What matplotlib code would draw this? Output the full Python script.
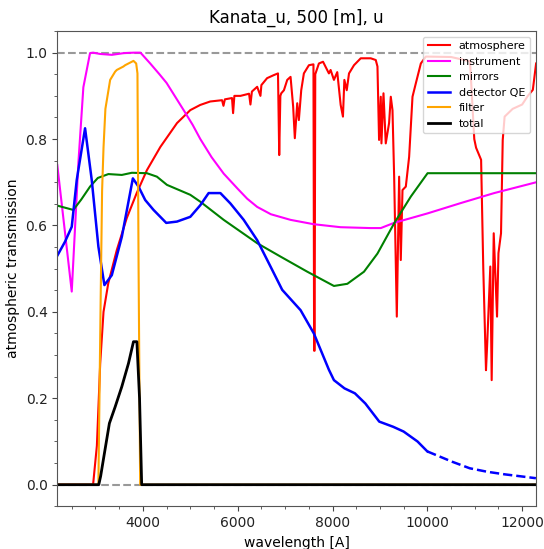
import matplotlib
matplotlib.use("Agg")
import matplotlib.pyplot as plt
import numpy as np

# wavelength [A] / transmission pairs for each component
atm_wl = [2195, 2950, 3030, 3100, 3170, 3270, 3450, 3660, 3870, 4085, 4370, 4720, 5000, 5210,
          5420, 5670, 5700, 5730, 5880, 5903, 5930, 6058, 6240, 6269, 6300, 6411, 6480, 6500,
          6620, 6760, 6850, 6876, 6900, 6919, 6975, 7045, 7115, 7170, 7205, 7256, 7290, 7340,
          7396, 7502, 7598, 7612, 7622, 7636, 7713, 7800, 7924, 7960, 8030, 8100, 8172, 8220,
          8250, 8300, 8348, 8453, 8595, 8806, 8912, 8948, 8982, 9018, 9032, 9075, 9123, 9193,
          9229, 9265, 9300, 9356, 9405, 9440, 9476, 9546, 9616, 9687, 9757, 9863, 9969, 10500,
          10900, 10990, 11028, 11134, 11180, 11237, 11260, 11328, 11357, 11400, 11470, 11500,
          11554, 11590, 11630, 11800, 12000, 12120, 12225, 12294]
atm_val = [0.0, 0.0, 0.09, 0.28, 0.40, 0.466, 0.543, 0.617, 0.675, 0.728, 0.782, 0.837, 0.867, 0.879,
           0.887, 0.89, 0.877, 0.892, 0.895, 0.86, 0.90, 0.90, 0.905, 0.88, 0.91, 0.921, 0.90, 0.925,
           0.941, 0.948, 0.952, 0.763, 0.90, 0.906, 0.913, 0.937, 0.944, 0.875, 0.802, 0.883, 0.844, 0.913,
           0.952, 0.971, 0.973, 0.31, 0.31, 0.95, 0.975, 0.979, 0.952, 0.96, 0.937, 0.955, 0.879, 0.852,
           0.937, 0.913, 0.952, 0.971, 0.987, 0.987, 0.983, 0.968, 0.798, 0.898, 0.79, 0.906, 0.79, 0.837,
           0.898, 0.867, 0.713, 0.389, 0.713, 0.52, 0.682, 0.69, 0.759, 0.898, 0.929, 0.975, 0.991, 0.99,
           0.98, 0.80, 0.78, 0.752, 0.50, 0.265, 0.32, 0.505, 0.242, 0.582, 0.389, 0.536,
           0.582, 0.798, 0.852, 0.87, 0.88, 0.90, 0.914, 0.975]

inst_wl = [2195, 2500, 2640, 2745, 2886, 2950, 3100, 3345, 3600, 3800, 3950, 4155, 4350, 4500,
           4700, 4860, 5050, 5212, 5450, 5705, 6000, 6200, 6411, 6700, 7115, 7600, 8170, 8800,
           9018, 9297, 10005, 10709, 11410, 12295]
inst_val = [0.74, 0.447, 0.745, 0.92, 0.999, 1.0, 0.997, 0.995, 0.999, 1.0, 1.0, 0.975, 0.95, 0.93,
            0.895, 0.867, 0.833, 0.80, 0.758, 0.72, 0.685, 0.662, 0.643, 0.626, 0.613, 0.603, 0.596, 0.594,
            0.594, 0.606, 0.628, 0.652, 0.675, 0.70]

mir_wl = [2195, 2533, 2700, 2886, 3050, 3273, 3556, 3768, 4085, 4296, 4508, 5000, 5212, 5705,
          6411, 6903, 7468, 8030, 8313, 8664, 8948, 9300, 9652, 10005, 12290]
mir_val = [0.646, 0.636, 0.66, 0.69, 0.71, 0.719, 0.717, 0.722, 0.721, 0.713, 0.694, 0.671, 0.655, 0.613,
           0.559, 0.528, 0.493, 0.46, 0.465, 0.493, 0.535, 0.605, 0.667, 0.721, 0.721]

qe_wl = [2195, 2358, 2500, 2605, 2781, 2922, 3062, 3189, 3345, 3557, 3789, 3908, 4049, 4225,
         4493, 4719, 5000, 5212, 5387, 5635, 5846, 6127, 6411, 6692, 6939, 7326, 7607, 7924,
         8030, 8252, 8472, 8692, 8986, 9280, 9500, 9793, 10000]
qe_val = [0.53, 0.5625, 0.597, 0.705, 0.825, 0.705, 0.551, 0.462, 0.485, 0.574, 0.709, 0.69, 0.659, 0.636,
          0.606, 0.609, 0.62, 0.647, 0.675, 0.675, 0.651, 0.613, 0.566, 0.505, 0.451, 0.404, 0.35, 0.266,
          0.242, 0.223, 0.2115, 0.188, 0.146, 0.134, 0.123, 0.1, 0.077]
# extrapolated part of the QE curve
qe_ext_wl = [10000, 10527, 10894, 11258, 11628, 12290]
qe_ext_val = [0.077, 0.053, 0.038, 0.03, 0.024, 0.015]

filt_wl = [2195, 3062, 3110, 3140, 3170, 3210, 3240, 3310, 3415, 3450, 3590, 3626, 3802, 3859,
           3886, 3910, 3943, 12290]
filt_val = [0.0, 0.0, 0.43, 0.68, 0.78, 0.87, 0.89, 0.937, 0.956, 0.96, 0.968, 0.971, 0.981, 0.975,
            0.952, 0.5, 0.0, 0.0]

tot_wl = [2195, 3070, 3110, 3170, 3294, 3415, 3556, 3697, 3802, 3874, 3930, 3975, 12290]
tot_val = [0.0, 0.0, 0.02, 0.06, 0.142, 0.18, 0.227, 0.281, 0.331, 0.331, 0.2, 0.0, 0.0]

fig = plt.figure(figsize=(5.44, 5.49), dpi=100)
ax = fig.add_axes([0.1053, 0.0778, 0.8794, 0.8656])

ax.axhline(1.0, color='gray', ls='--', lw=1.5, alpha=0.8)
ax.axhline(0.0, color='gray', ls='--', lw=1.5, alpha=0.8)

ax.plot(atm_wl, atm_val, color='red', lw=1.5, label='atmosphere')
ax.plot(inst_wl, inst_val, color='magenta', lw=1.5, label='instrument')
ax.plot(mir_wl, mir_val, color='green', lw=1.5, label='mirrors')
ax.plot(qe_wl, qe_val, color='blue', lw=1.8, label='detector QE')
ax.plot(qe_ext_wl, qe_ext_val, color='blue', lw=1.8, ls='--')
ax.plot(filt_wl, filt_val, color='orange', lw=1.5, label='filter')
ax.plot(tot_wl, tot_val, color='black', lw=2, label='total')

ax.set_xlim(2195, 12285)
ax.set_ylim(-0.05, 1.05)
ax.set_xticks([4000, 6000, 8000, 10000, 12000])
ax.set_yticks([0.0, 0.2, 0.4, 0.6, 0.8, 1.0])
ax.minorticks_on()
for s in ax.spines.values():
    s.set_color('#555555')
ax.tick_params(which='both', colors='#444444', labelcolor='#222222')

ax.set_title('Kanata_u, 500 [m], u', fontsize=12)
ax.set_xlabel('wavelength [A]', fontsize=10)
ax.set_ylabel('atmospheric transmission', fontsize=10)
ax.legend(loc='upper right', fontsize=8)

fig.savefig('out.png', dpi=100)
